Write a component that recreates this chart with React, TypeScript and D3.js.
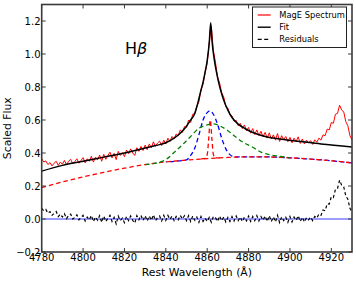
import React from "react";
import * as d3 from "d3";

// axis ticks
const xTicks = [4780, 4800, 4820, 4840, 4860, 4880, 4900, 4920];
const yTicks = [-0.2, 0.0, 0.2, 0.4, 0.6, 0.8, 1.0, 1.2];

// MagE spectrum, 1 A steps from 4780 to 4930
const specWave = d3.range(4780, 4931, 1);
const specFlux = [
  0.365, 0.345, 0.352, 0.330, 0.342, 0.322, 0.338, 0.350, 0.325, 0.345,
  0.332, 0.355, 0.328, 0.350, 0.362, 0.335, 0.348, 0.365, 0.338, 0.355,
  0.372, 0.340, 0.365, 0.350, 0.380, 0.345, 0.375, 0.358, 0.388, 0.350,
  0.392, 0.362, 0.385, 0.405, 0.370, 0.398, 0.360, 0.410, 0.385, 0.402,
  0.378, 0.418, 0.395, 0.425, 0.400, 0.385, 0.432, 0.410, 0.440, 0.415,
  0.448, 0.420, 0.455, 0.432, 0.468, 0.440, 0.460, 0.472, 0.445, 0.478,
  0.455, 0.490, 0.470, 0.500, 0.485, 0.515, 0.505, 0.540, 0.525, 0.560,
  0.555, 0.600, 0.585, 0.635, 0.640, 0.685, 0.710, 0.785, 0.815, 0.890,
  0.945, 1.070, 1.165, 1.020, 0.950, 0.860, 0.825, 0.765, 0.740, 0.680,
  0.672, 0.630, 0.625, 0.592, 0.598, 0.565, 0.580, 0.548, 0.570, 0.535,
  0.555, 0.520, 0.548, 0.512, 0.540, 0.505, 0.532, 0.498, 0.525, 0.490,
  0.522, 0.485, 0.510, 0.478, 0.518, 0.470, 0.505, 0.482, 0.500, 0.468,
  0.495, 0.462, 0.490, 0.470, 0.498, 0.458, 0.485, 0.455, 0.478, 0.462,
  0.475, 0.452, 0.480, 0.465, 0.490, 0.478, 0.510, 0.505, 0.545, 0.540,
  0.585, 0.580, 0.635, 0.640, 0.690, 0.660, 0.650, 0.590, 0.565, 0.505, 0.480,
];
const residFlux = [
  0.065, 0.050, 0.058, 0.035, 0.045, 0.022, 0.035, 0.045, 0.015, 0.030,
  0.012, 0.032, 0.002, 0.022, 0.030, 0.000, 0.010, 0.025, -0.005, 0.010,
  0.022, -0.012, 0.012, -0.005, 0.022, -0.015, 0.012, -0.008, 0.020, -0.020,
  0.018, -0.015, 0.005, 0.022, -0.015, 0.010, -0.030, 0.018, -0.010, 0.005,
  -0.022, 0.015, -0.010, 0.018, -0.008, -0.025, 0.020, -0.005, 0.022, -0.008,
  0.020, -0.012, 0.018, -0.008, 0.025, -0.010, 0.008, 0.018, -0.012, 0.022,
  -0.008, 0.022, -0.002, 0.018, -0.010, 0.015, -0.005, 0.022, 0.000, 0.020,
  -0.010, 0.020, -0.015, 0.018, -0.008, 0.012, -0.020, 0.015, -0.015, 0.005,
  -0.015, 0.010, -0.020, 0.015, 0.008, -0.015, 0.018, -0.010, 0.012, -0.018,
  0.010, -0.015, 0.015, -0.012, 0.018, -0.010, 0.012, -0.015, 0.010, -0.012,
  0.018, -0.015, 0.015, -0.010, 0.020, -0.012, 0.015, -0.008, 0.018, -0.015,
  0.020, -0.015, 0.012, -0.018, 0.022, -0.022, 0.012, -0.010, 0.010, -0.020,
  0.015, -0.018, 0.012, -0.008, 0.020, -0.015, 0.010, -0.018, 0.008, -0.005,
  0.012, -0.010, 0.015, 0.005, 0.030, 0.022, 0.055, 0.050, 0.092, 0.090,
  0.135, 0.130, 0.180, 0.185, 0.235, 0.205, 0.195, 0.140, 0.120, 0.065, 0.045,
];

// total fit
const fitWave = [4780, 4790, 4800, 4810, 4820, 4830, 4835, 4840, 4844, 4847, 4850, 4852, 4854, 4855, 4856, 4857, 4858, 4859, 4860, 4861, 4861.7, 4862.4, 4863.5, 4864.5, 4865.5, 4866.5, 4868, 4870, 4872, 4875, 4878, 4881, 4884, 4888, 4895, 4905, 4915, 4930];
const fitFlux = [0.290, 0.325, 0.350, 0.375, 0.400, 0.430, 0.445, 0.462, 0.490, 0.520, 0.562, 0.600, 0.640, 0.680, 0.730, 0.780, 0.830, 0.890, 0.960, 1.070, 1.190, 1.070, 0.960, 0.890, 0.830, 0.780, 0.720, 0.660, 0.615, 0.575, 0.550, 0.530, 0.515, 0.500, 0.485, 0.470, 0.455, 0.437];

// continuum
const contWave = [4780, 4790, 4800, 4810, 4820, 4830, 4840, 4850, 4860, 4870, 4880, 4890, 4900, 4910, 4920, 4930];
const contFlux = [0.190, 0.225, 0.255, 0.283, 0.308, 0.330, 0.346, 0.357, 0.366, 0.373, 0.377, 0.376, 0.371, 0.363, 0.353, 0.340];

// broad component (green)
const broadWave = [4830, 4835, 4840, 4845, 4848, 4852, 4856, 4860, 4863, 4866, 4870, 4874, 4878, 4882, 4886, 4890, 4895, 4900];
const broadFlux = [0.330, 0.338, 0.360, 0.415, 0.450, 0.500, 0.550, 0.570, 0.577, 0.565, 0.535, 0.495, 0.460, 0.435, 0.405, 0.390, 0.380, 0.371];

// intermediate component (blue)
const midWave = [4840, 4850, 4852, 4854, 4856, 4858, 4860, 4861.3, 4863, 4865, 4867, 4869, 4871, 4873, 4880, 4890, 4900, 4910, 4920, 4930];
const midFlux = [0.346, 0.358, 0.385, 0.430, 0.510, 0.600, 0.645, 0.656, 0.635, 0.575, 0.490, 0.425, 0.390, 0.377, 0.377, 0.376, 0.371, 0.363, 0.353, 0.340];

// narrow component (red)
const narrowWave = [4857, 4859, 4860, 4860.7, 4861.5, 4862.3, 4863, 4864, 4866];
const narrowFlux = [0.365, 0.368, 0.390, 0.480, 0.600, 0.480, 0.390, 0.370, 0.371];

const legendItems = ["MagE Spectrum", "Fit", "Residuals"];

const W = 356;
const H = 284;
const left = 41.7;
const right = 352;
const top = 4.5;
const bottom = 252;
const font = "DejaVu Sans, sans-serif";
const frame = "#3a3a3a";

const App: React.FC = () => {
  const x = d3.scaleLinear().domain([4780, 4930]).range([left, right]);
  const y = d3.scaleLinear().domain([-0.2, 1.3]).range([bottom, top]);

  const pairs = (xs: number[], ys: number[]) => xs.map((v, i) => [v, ys[i]] as [number, number]);
  const lin = d3.line<[number, number]>().x((d) => x(d[0])).y((d) => y(d[1]));
  const smooth = d3
    .line<[number, number]>()
    .x((d) => x(d[0]))
    .y((d) => y(d[1]))
    .curve(d3.curveMonotoneX);

  const fmt = (v: number) => (v < 0 ? "\u2212" : "") + Math.abs(v).toFixed(1);
  const dash = "4.5,3";
  const tick = 4;

  return (
    <svg
      width={W}
      height={H}
      style={{ position: "absolute", left: 0, top: 0, background: "#fff" }}
      fontFamily={font}
    >
      <defs>
        <clipPath id="plot">
          <rect x={left} y={top} width={right - left} height={bottom - top} />
        </clipPath>
      </defs>
      <g clipPath="url(#plot)" fill="none">
        <line x1={left} x2={right} y1={y(0)} y2={y(0)} stroke="#3b3bff" strokeWidth={1} />
        <path d={lin(pairs(specWave, specFlux)) || ""} stroke="#ff0000" strokeWidth={1} />
        <path d={smooth(pairs(midWave, midFlux)) || ""} stroke="#0000ff" strokeWidth={1.3} strokeDasharray={dash} strokeDashoffset={3.5} />
        <path d={smooth(pairs(contWave, contFlux)) || ""} stroke="#ff0000" strokeWidth={1.3} strokeDasharray={dash} />
        <path d={smooth(pairs(broadWave, broadFlux)) || ""} stroke="#008000" strokeWidth={1.3} strokeDasharray={dash} />
        <path d={smooth(pairs(narrowWave, narrowFlux)) || ""} stroke="#ff0000" strokeWidth={1.3} strokeDasharray={dash} />
        <path d={smooth(pairs(fitWave, fitFlux)) || ""} stroke="#000" strokeWidth={1.5} />
        <path d={lin(pairs(specWave, residFlux)) || ""} stroke="#000" strokeWidth={1.2} strokeDasharray="3,2.5" />
      </g>

      {/* frame */}
      <rect x={left} y={top} width={right - left} height={bottom - top} fill="none" stroke={frame} strokeWidth={1.6} />

      {/* x ticks */}
      {xTicks.map((t) => (
        <g key={"x" + t}>
          <line x1={x(t)} x2={x(t)} y1={bottom} y2={bottom - tick} stroke={frame} strokeWidth={1} />
          <line x1={x(t)} x2={x(t)} y1={top} y2={top + tick} stroke={frame} strokeWidth={1} />
          <text x={x(t)} y={260.5} fontSize={10} textAnchor="middle" fill="#000">
            {t}
          </text>
        </g>
      ))}

      {/* y ticks */}
      {yTicks.map((t) => (
        <g key={"y" + t}>
          <line x1={left} x2={left + tick} y1={y(t)} y2={y(t)} stroke={frame} strokeWidth={1} />
          <line x1={right} x2={right - tick} y1={y(t)} y2={y(t)} stroke={frame} strokeWidth={1} />
          <text x={40.5} y={y(t)} dy="0.35em" fontSize={10} textAnchor="end" fill="#000">
            {fmt(t)}
          </text>
        </g>
      ))}

      <text x={(left + right) / 2} y={276} fontSize={10.8} textAnchor="middle" fill="#000">
        Rest Wavelength (Å)
      </text>
      <text
        transform={`translate(10.5,${(top + bottom) / 2}) rotate(-90)`}
        fontSize={10.8}
        textAnchor="middle"
        fill="#000"
      >
        Scaled Flux
      </text>

      <text x={125} y={54} fontSize={16} fill="#000">
        H<tspan fontStyle="italic">β</tspan>
      </text>

      {/* legend */}
      <g>
        <rect x={252.5} y={7} width={94} height={40.5} fill="#fff" stroke="#222" strokeWidth={1} />
        {legendItems.map((name, i) => {
          const ly = 15 + i * 12.2;
          const stroke = i === 0 ? "#ff0000" : "#000";
          return (
            <g key={name}>
              <line
                x1={257.7}
                x2={270.7}
                y1={ly}
                y2={ly}
                stroke={stroke}
                strokeWidth={i === 0 ? 1.2 : 1.4}
                strokeDasharray={i === 2 ? "4,2.5" : undefined}
              />
              <text x={279.3} y={ly} dy="0.35em" fontSize={8.3} fill="#000">
                {name}
              </text>
            </g>
          );
        })}
      </g>
    </svg>
  );
};

export default App;
